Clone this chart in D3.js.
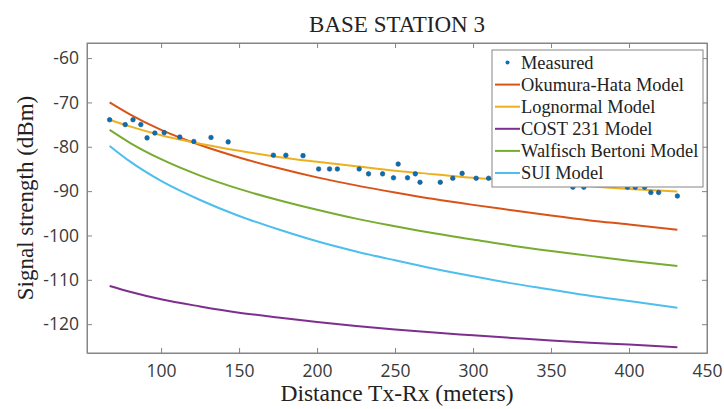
<!DOCTYPE html>
<html>
<head>
<meta charset="utf-8">
<script src="https://cdn.jsdelivr.net/npm/d3@7"></script>
<style>
  html, body { margin: 0; padding: 0; background: #fff; }
  svg { display: block; }
</style>
</head>
<body>
<svg id="chart" width="724" height="409"></svg>
<script>
// Distances (m) at which each propagation model is drawn
const modelDistance = [67, 80, 100, 125, 150, 175, 200, 225, 250, 275, 300, 325, 350, 375, 400, 431];

// Predicted signal strength (dBm) for each model
const okumuraHata = [-70.0, -72.7, -76.2, -79.6, -82.4, -84.8, -86.9, -88.7, -90.3, -91.8, -93.1, -94.3, -95.5, -96.6, -97.5, -98.7];
const lognormal   = [-73.9, -75.4, -77.4, -79.3, -80.9, -82.3, -83.4, -84.4, -85.4, -86.2, -87.0, -87.6, -88.3, -88.9, -89.5, -90.1];
const cost231     = [-111.4, -112.7, -114.4, -116.0, -117.4, -118.5, -119.5, -120.4, -121.2, -121.9, -122.5, -123.1, -123.7, -124.2, -124.6, -125.2];
const walfisch    = [-76.2, -79.1, -82.8, -86.5, -89.5, -92.0, -94.2, -96.2, -97.9, -99.5, -100.9, -102.3, -103.5, -104.6, -105.7, -106.9];
const sui         = [-79.8, -83.3, -87.7, -92.0, -95.6, -98.6, -101.3, -103.6, -105.6, -107.5, -109.2, -110.8, -112.2, -113.6, -114.8, -116.3];

// Measured drive-test samples
const measuredDistance = [67, 77, 82, 87, 91, 96, 102, 112, 121, 132, 143, 172, 180, 191, 201, 208, 213, 227, 233, 242, 249, 252, 258, 263, 266, 279, 287, 293, 302, 310, 364, 371, 399, 404, 410, 414, 419, 431];
const measuredSignal   = [-73.9, -75.0, -73.9, -75.0, -78.0, -76.9, -76.8, -77.8, -78.8, -77.9, -78.9, -81.9, -81.9, -82.0, -85.0, -85.0, -85.0, -85.0, -86.1, -86.1, -87.0, -83.9, -87.0, -86.1, -88.0, -88.0, -87.1, -86.0, -87.1, -87.1, -89.1, -89.1, -89.1, -89.1, -89.1, -90.3, -90.3, -91.1];

// Axis ticks
const xTicks = [100, 150, 200, 250, 300, 350, 400, 450];
const yTicks = [-60, -70, -80, -90, -100, -110, -120];

const seriesNames  = ["Okumura-Hata Model", "Lognormal Model", "COST 231 Model", "Walfisch Bertoni Model", "SUI Model"];
const seriesValues = [okumuraHata, lognormal, cost231, walfisch, sui];
const seriesColors = ["#D95319", "#EDB120", "#7E2F8E", "#77AC30", "#4DBEEE"];
const measuredColor = "#0072BD";

const svg = d3.select("#chart");
const m = { left: 87, right: 707, top: 43, bottom: 353 };

const x = d3.scaleLinear().domain([52.5, 450]).range([m.left, m.right]);
const y = d3.scaleLinear().domain([-126.5, -56.6]).range([m.bottom, m.top]);

const axisColor = "#858585";
const tickFont = "'Open Sans', 'Noto Sans', sans-serif";
const serif = "'Liberation Serif', 'DejaVu Serif', serif";

// Bottom axis with inward ticks
svg.append("g").attr("transform", `translate(0,${m.bottom})`)
  .call(d3.axisBottom(x).tickValues(xTicks).tickSize(-5).tickPadding(12).tickSizeOuter(0));
// Left axis with inward ticks
svg.append("g").attr("transform", `translate(${m.left},0)`)
  .call(d3.axisLeft(y).tickValues(yTicks).tickSize(-5).tickPadding(8).tickSizeOuter(0)
    .tickFormat(d => d));
// Top and right mirrored ticks
svg.append("g").attr("transform", `translate(0,${m.top})`)
  .call(d3.axisTop(x).tickValues(xTicks).tickSize(-5).tickFormat("").tickSizeOuter(0));
svg.append("g").attr("transform", `translate(${m.right},0)`)
  .call(d3.axisRight(y).tickValues(yTicks).tickSize(-5).tickFormat("").tickSizeOuter(0));

svg.selectAll(".domain").attr("stroke", axisColor);
svg.selectAll(".tick line").attr("stroke", axisColor);
svg.selectAll(".tick text")
  .attr("font-family", tickFont).attr("font-size", 17.5).attr("fill", "#3a3a3a");

// Box outline
svg.append("rect")
  .attr("x", m.left).attr("y", m.top)
  .attr("width", m.right - m.left).attr("height", m.bottom - m.top)
  .attr("fill", "none").attr("stroke", axisColor).attr("stroke-width", 1);

// Model curves
const line = d3.line()
  .x((d, i) => x(modelDistance[i]))
  .y(d => y(d))
  .curve(d3.curveMonotoneX);

seriesValues.forEach((vals, k) => {
  svg.append("path")
    .datum(vals)
    .attr("d", line)
    .attr("fill", "none")
    .attr("stroke", seriesColors[k])
    .attr("stroke-width", 2);
});

// Measured samples
svg.append("g").selectAll("circle")
  .data(measuredSignal)
  .join("circle")
  .attr("cx", (d, i) => x(measuredDistance[i]))
  .attr("cy", d => y(d))
  .attr("r", 2.3)
  .attr("fill", measuredColor)
  .attr("stroke", "#2f4f6a").attr("stroke-width", 0.6);

// Title and axis labels
svg.append("text").attr("x", (m.left + m.right) / 2).attr("y", 32)
  .attr("text-anchor", "middle").attr("font-family", serif).attr("font-size", 23)
  .attr("fill", "#222").text("BASE STATION 3");

svg.append("text").attr("x", (m.left + m.right) / 2).attr("y", 401)
  .attr("text-anchor", "middle").attr("font-family", serif).attr("font-size", 23.5)
  .attr("fill", "#222").text("Distance Tx-Rx (meters)");

svg.append("text")
  .attr("transform", `translate(33,${(m.top + m.bottom) / 2}) rotate(-90)`)
  .attr("text-anchor", "middle").attr("font-family", serif).attr("font-size", 23)
  .attr("fill", "#222").text("Signal strength (dBm)");

// Legend
const lg = { x: 492, y: 50, w: 211, h: 137, row: 22.1 };
const legend = svg.append("g");
legend.append("rect")
  .attr("x", lg.x).attr("y", lg.y).attr("width", lg.w).attr("height", lg.h)
  .attr("fill", "#fff").attr("stroke", axisColor).attr("stroke-width", 1);

const legendRows = [{ name: "Measured", marker: true, color: measuredColor }]
  .concat(seriesNames.map((n, k) => ({ name: n, marker: false, color: seriesColors[k] })));

legendRows.forEach((r, i) => {
  const cy = lg.y + 12.5 + i * lg.row;
  if (r.marker) {
    legend.append("circle").attr("cx", 507.5).attr("cy", cy).attr("r", 2)
      .attr("fill", r.color);
  } else {
    legend.append("line").attr("x1", 495).attr("x2", 520).attr("y1", cy).attr("y2", cy)
      .attr("stroke", r.color).attr("stroke-width", 2);
  }
  legend.append("text").attr("x", 521).attr("y", cy + 6)
    .attr("font-family", serif).attr("font-size", 18.4).attr("fill", "#222")
    .text(r.name);
});
</script>
</body>
</html>
